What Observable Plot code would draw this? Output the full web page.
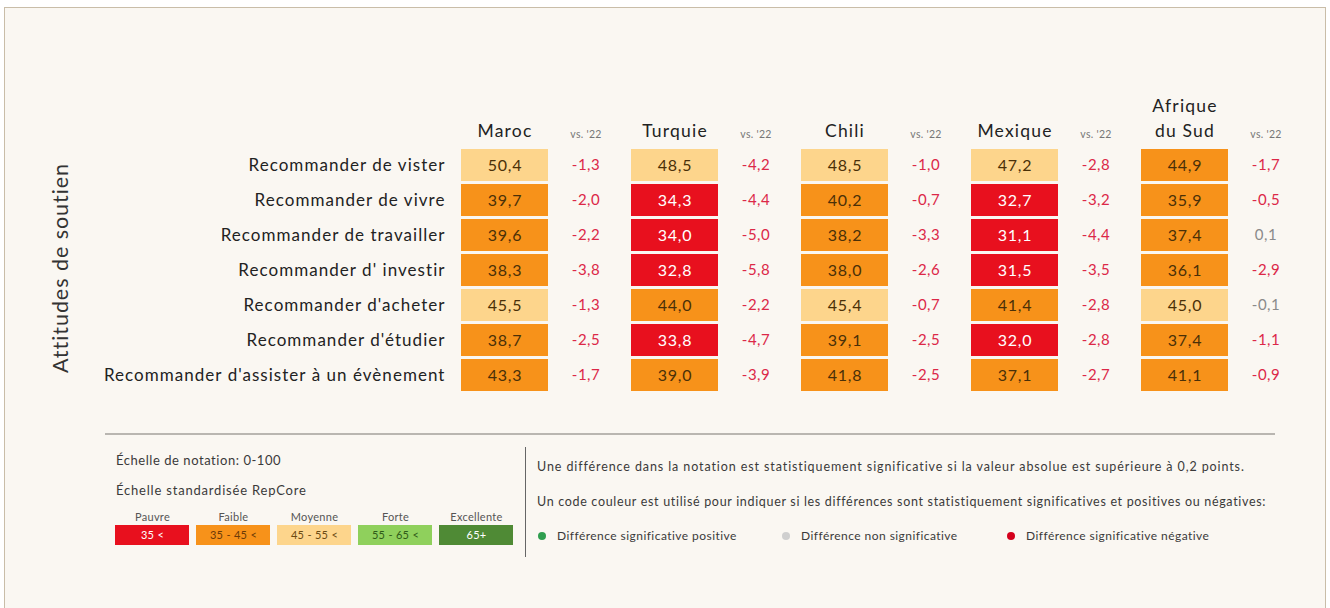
<!DOCTYPE html>
<html lang="fr">
<head>
<meta charset="utf-8">
<script src="https://cdn.jsdelivr.net/npm/d3@7"></script>
<script src="https://cdn.jsdelivr.net/npm/@observablehq/plot@0.6"></script>
<style>
  html, body { margin: 0; padding: 0; background: #ffffff; }
  body { width: 1330px; height: 608px; position: relative; overflow: hidden; font-family: Lato, "Open Sans", sans-serif; }
  #frame { position: absolute; left: 4px; top: 7px; width: 1322px; height: 620px; background: #faf7f2; border: 1.5px solid #c9bda8; box-sizing: border-box; }
  #main { position: absolute; left: 0; top: 0; }
  #ylab { position: absolute; left: 60px; top: 268px; transform: translate(-50%, -50%) rotate(-90deg); font-size: 21.5px; letter-spacing: 0.95px; color: #333; white-space: nowrap; }
  #sep { position: absolute; left: 105px; top: 433px; width: 1170px; height: 2px; background: #b9b6b1; }
  #vsep { position: absolute; left: 525px; top: 447px; width: 1px; height: 110px; background: #666; }
  .t { position: absolute; white-space: nowrap; color: #3a3a3a; }
  #legend { position: absolute; left: 113px; top: 504px; }
  .dot { position: absolute; width: 8px; height: 8px; border-radius: 50%; }
  #main g[aria-label="y-axis tick label"] text { letter-spacing: 1.04px; }
  #main g[aria-label="x-axis tick label"] text { letter-spacing: 1.2px; }
  #main g[aria-description="vs"] text { letter-spacing: 0.3px; }
  #main g[aria-description="scores"] text { letter-spacing: 0.7px; }
  #main g[aria-description="deltas"] text { letter-spacing: 0.5px; }
  #legend text { letter-spacing: 0.3px; }
</style>
</head>
<body>
<div id="frame"></div>
<div id="ylab"></div>
<div id="main"></div>
<div id="sep"></div>
<div id="vsep"></div>
<div class="t" id="l1" style="left:116px; top:452px; font-size:13px; letter-spacing:0.55px;"></div>
<div class="t" id="l2" style="left:116px; top:482px; font-size:13px; letter-spacing:0.8px;"></div>
<div id="legend"></div>
<div class="t" id="n1" style="left:537px; top:459px; font-size:12.5px; letter-spacing:0.9px;"></div>
<div class="t" id="n2" style="left:537px; top:494px; font-size:12.5px; letter-spacing:0.68px;"></div>
<div id="dots"></div>
<script>
// ---- Data ----
const countries = ["Maroc", "Turquie", "Chili", "Mexique", "Afrique du Sud"];
const attitudes = [
  "Recommander de vister",
  "Recommander de vivre",
  "Recommander de travailler",
  "Recommander d' investir",
  "Recommander d'acheter",
  "Recommander d'étudier",
  "Recommander d'assister à un évènement"
];
const scoresMaroc   = [50.4, 39.7, 39.6, 38.3, 45.5, 38.7, 43.3];
const scoresTurquie = [48.5, 34.3, 34.0, 32.8, 44.0, 33.8, 39.0];
const scoresChili   = [48.5, 40.2, 38.2, 38.0, 45.4, 39.1, 41.8];
const scoresMexique = [47.2, 32.7, 31.1, 31.5, 41.4, 32.0, 37.1];
const scoresAfrique = [44.9, 35.9, 37.4, 36.1, 45.0, 37.4, 41.1];
const deltaMaroc   = [-1.3, -2.0, -2.2, -3.8, -1.3, -2.5, -1.7];
const deltaTurquie = [-4.2, -4.4, -5.0, -5.8, -2.2, -4.7, -3.9];
const deltaChili   = [-1.0, -0.7, -3.3, -2.6, -0.7, -2.5, -2.5];
const deltaMexique = [-2.8, -3.2, -4.4, -3.5, -2.8, -2.8, -2.7];
const deltaAfrique = [-1.7, -0.5, 0.1, -2.9, -0.1, -1.1, -0.9];
const vsLabel = "vs. '22";
const significance = 0.2;

const ratingLabels = ["Pauvre", "Faible", "Moyenne", "Forte", "Excellente"];
const ratingRanges = ["35 <", "35 - 45 <", "45 - 55 <", "55 - 65 <", "65+"];
const ratingThresholds = [35, 45, 55, 65];
const ratingColors = ["#e8101e", "#f7921a", "#fdd58c", "#8fd05c", "#4f8a35"];
const ratingTextColors = ["#ffffff", "#6b3a08", "#6b4a12", "#2f5a18", "#ffffff"];

const yTitle = "Attitudes de soutien";
const scaleTitle = "Échelle de notation: 0-100";
const scaleSub = "Échelle standardisée RepCore";
const note1 = "Une différence dans la notation est statistiquement significative si la valeur absolue est supérieure à 0,2 points.";
const note2 = "Un code couleur est utilisé pour indiquer si les différences sont statistiquement significatives et positives ou négatives:";
const dotLabels = ["Différence significative positive", "Différence non significative", "Différence significative négative"];
const dotColors = ["#2f9e4f", "#cfcfcf", "#d4001c"];

// ---- Build table ----
const scoreArrays = [scoresMaroc, scoresTurquie, scoresChili, scoresMexique, scoresAfrique];
const deltaArrays = [deltaMaroc, deltaTurquie, deltaChili, deltaMexique, deltaAfrique];
const table = [];
countries.forEach((c, ci) => attitudes.forEach((a, ai) => {
  table.push({country: c, attitude: a, score: scoreArrays[ci][ai], delta: deltaArrays[ci][ai]});
}));
const fmt = v => v.toFixed(1).replace(".", ",");
const font = "Lato, 'Open Sans', sans-serif";

const main = Plot.plot({
  width: 1330,
  height: 410,
  marginLeft: 459,
  marginRight: 101,
  marginTop: 147,
  marginBottom: 18,
  style: {background: "transparent", fontFamily: font, color: "#222"},
  x: {type: "band", domain: countries, paddingInner: 0.49, paddingOuter: 0, axis: null},
  y: {type: "band", domain: attitudes, paddingInner: 0.09, paddingOuter: 0, axis: null},
  color: {type: "threshold", domain: ratingThresholds, range: ratingColors},
  marks: [
    Plot.cell(table, {x: "country", y: "attitude", fill: "score"}),
    Plot.axisY({tickSize: 0, tickPadding: 14, fontSize: 17, fill: "#222", label: null}),
    Plot.axisX({anchor: "top", tickSize: 0, tickPadding: 11, fontSize: 17.5, fill: "#222", label: null,
      tickFormat: d => d === "Afrique du Sud" ? "Afrique\ndu Sud" : d, lineHeight: 1.4}),
    Plot.text(countries, {x: d => d, frameAnchor: "top", dy: -17, dx: 81, text: () => vsLabel, fontSize: 10.5, fill: "#777", ariaDescription: "vs"}),
    Plot.text(table.filter(d => d.score < ratingThresholds[0]), {x: "country", y: "attitude", text: d => fmt(d.score), fill: "#ffffff", fontSize: 16, ariaDescription: "scores"}),
    Plot.text(table.filter(d => d.score >= ratingThresholds[0]), {x: "country", y: "attitude", text: d => fmt(d.score), fill: "#4a3008", fontSize: 16, ariaDescription: "scores"}),
    Plot.text(table.filter(d => d.delta < -significance), {x: "country", y: "attitude", dx: 81, text: d => fmt(d.delta), fill: "#dc2848", fontSize: 15, ariaDescription: "deltas"}),
    Plot.text(table.filter(d => d.delta > significance), {x: "country", y: "attitude", dx: 81, text: d => fmt(d.delta), fill: "#2f9e4f", fontSize: 15, ariaDescription: "deltas"}),
    Plot.text(table.filter(d => Math.abs(d.delta) <= significance), {x: "country", y: "attitude", dx: 81, text: d => fmt(d.delta), fill: "#8a8a8a", fontSize: 15, ariaDescription: "deltas"})
  ]
});
document.getElementById("main").appendChild(main);

document.getElementById("ylab").textContent = yTitle;
document.getElementById("l1").textContent = scaleTitle;
document.getElementById("l2").textContent = scaleSub;
document.getElementById("n1").textContent = note1;
document.getElementById("n2").textContent = note2;

const ratingData = ratingLabels.map((l, i) => ({label: l, range: ratingRanges[i], textColor: ratingTextColors[i]}));
const legend = Plot.plot({
  width: 402,
  height: 42,
  marginLeft: 2,
  marginRight: 2,
  marginTop: 21,
  marginBottom: 1,
  style: {background: "transparent", fontFamily: font},
  x: {type: "band", domain: ratingLabels, paddingInner: 0.09, paddingOuter: 0, axis: null},
  color: {type: "ordinal", domain: ratingLabels, range: ratingColors},
  marks: [
    Plot.axisX({anchor: "top", tickSize: 0, tickPadding: 5, fontSize: 11, fill: "#555", label: null}),
    Plot.cell(ratingData, {x: "label", fill: "label"}),
    ...ratingData.map(d => Plot.text([d], {x: "label", text: "range", fill: d.textColor, fontSize: 11}))
  ]
});
document.getElementById("legend").appendChild(legend);

const dotsX = [542, 786, 1011];
const dots = document.getElementById("dots");
dotLabels.forEach((lab, i) => {
  const dot = document.createElement("div");
  dot.className = "dot";
  dot.style.left = (dotsX[i] - 4) + "px";
  dot.style.top = "532px";
  dot.style.background = dotColors[i];
  dots.appendChild(dot);
  const t = document.createElement("div");
  t.className = "t";
  t.style.left = (dotsX[i] + 15) + "px";
  t.style.top = "528px";
  t.style.fontSize = "12px";
  t.style.letterSpacing = "0.45px";
  t.textContent = lab;
  dots.appendChild(t);
});
</script>
</body>
</html>
